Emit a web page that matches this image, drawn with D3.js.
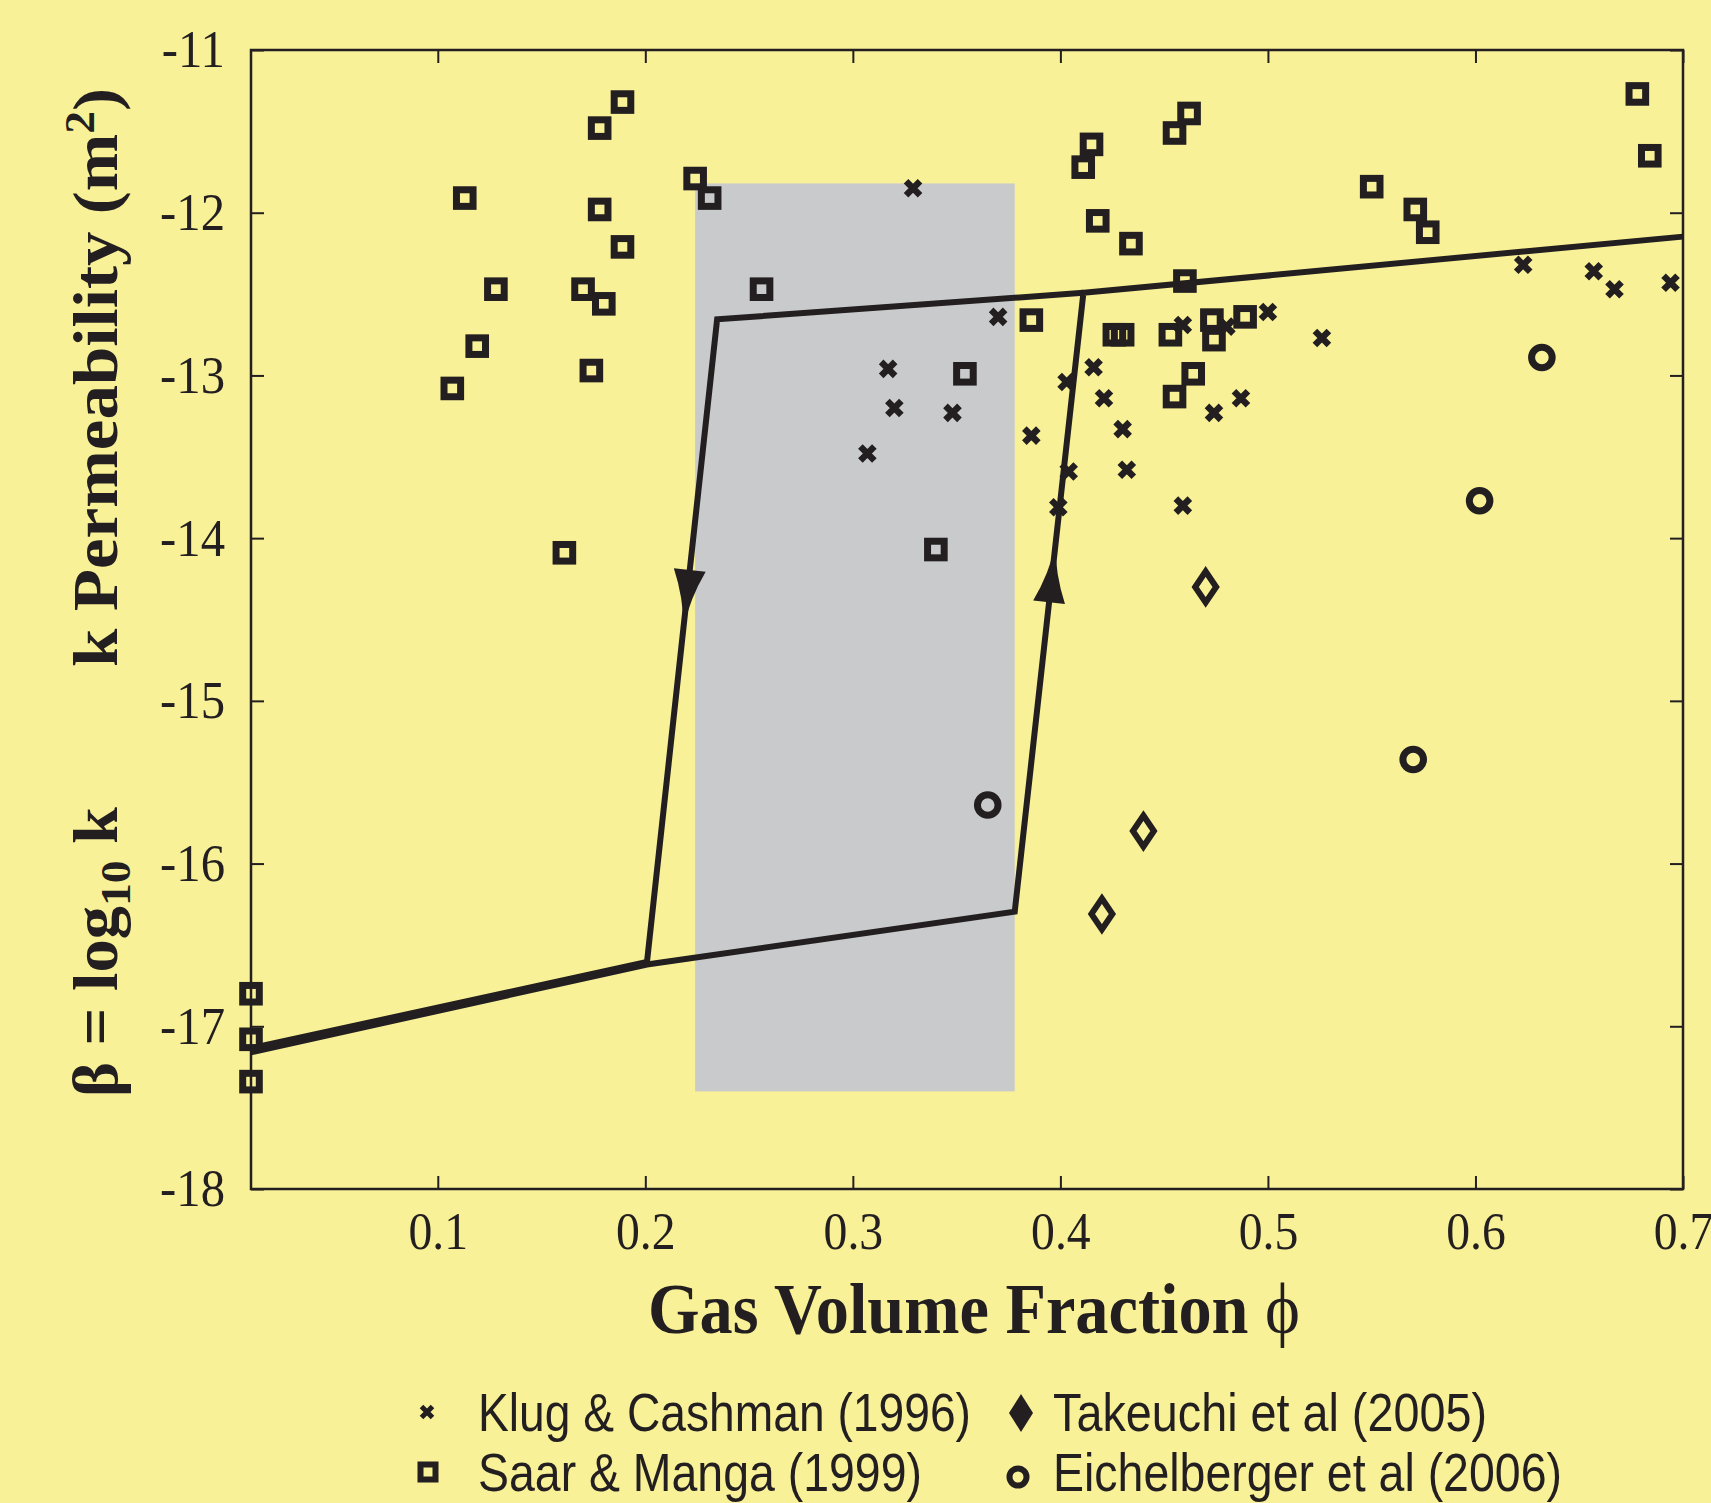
<!DOCTYPE html>
<html>
<head>
<meta charset="utf-8">
<script src="https://cdn.jsdelivr.net/npm/d3@7"></script>
<style>
  body { margin: 0; background: #f8f197; }
  svg { display: block; }
</style>
</head>
<body>
<div id="chart"></div>
<script>
// Tick values
var xTicks = [0.1, 0.2, 0.3, 0.4, 0.5, 0.6, 0.7];
var yTicks = [-11, -12, -13, -14, -15, -16, -17, -18];

// Klug & Cashman (1996) : [phi, log10 k]
var klug = [
  [0.329, -11.85], [0.317, -12.96], [0.320, -13.20], [0.348, -13.23], [0.307, -13.48],
  [0.370, -12.64], [0.386, -13.37], [0.403, -13.04], [0.404, -13.59], [0.399, -13.81],
  [0.416, -12.95], [0.421, -13.14], [0.430, -13.33], [0.432, -13.58], [0.459, -12.69],
  [0.459, -13.80], [0.474, -13.23], [0.480, -12.70], [0.487, -13.14], [0.500, -12.61],
  [0.526, -12.77], [0.623, -12.32], [0.657, -12.36], [0.667, -12.47], [0.694, -12.43]
];

// Saar & Manga (1999)
var saar = [
  [0.107, -13.08], [0.113, -11.91], [0.119, -12.82], [0.128, -12.47], [0.161, -14.09],
  [0.170, -12.47], [0.174, -12.97], [0.178, -11.48], [0.178, -11.98], [0.180, -12.56],
  [0.189, -11.32], [0.189, -12.21], [0.224, -11.79], [0.231, -11.91], [0.256, -12.47],
  [0.340, -14.07], [0.354, -12.99], [0.386, -12.66], [0.411, -11.72], [0.415, -11.58],
  [0.418, -12.05], [0.426, -12.75], [0.430, -12.75], [0.434, -12.19], [0.455, -11.51],
  [0.462, -11.39], [0.453, -12.75], [0.455, -13.13], [0.460, -12.42], [0.464, -12.99],
  [0.473, -12.66], [0.474, -12.78], [0.489, -12.64], [0.550, -11.84], [0.571, -11.98],
  [0.577, -12.12], [0.678, -11.27], [0.684, -11.65], [0.010, -16.80], [0.010, -17.08],
  [0.010, -17.34]
];

// Takeuchi et al (2005)
var takeuchi = [[0.470, -14.30], [0.440, -15.80], [0.420, -16.31]];

// Eichelberger et al (2006)
var eichelberger = [[0.365, -15.64], [0.570, -15.36], [0.602, -13.77], [0.632, -12.89]];

// Hysteresis loop branches
var loopOuter = [[0.01, -17.16], [0.2008, -16.62], [0.378, -16.296], [0.4111, -12.492], [0.7, -12.147]];
var loopInner = [[0.4111, -12.492], [0.2346, -12.655], [0.2008, -16.605], [0.01, -17.135]];

// Arrow heads: segment (from, to) and the log k of the tip
var arrows = [
  { from: [0.2346, -12.655], to: [0.2008, -16.605], tip: -14.55 },
  { from: [0.378, -16.296], to: [0.4111, -12.492], tip: -14.04 }
];

// Grey band
var bandX = [0.224, 0.378];
var bandY = [-17.40, -11.82];

var ink = "#231f20";
var W = 1711, H = 1503;

var svg = d3.select("#chart").append("svg")
    .attr("width", W)
    .attr("height", H);

svg.append("rect").attr("width", W).attr("height", H).attr("fill", "#f8f197");

var x = d3.scaleLinear().domain([0.01, 0.7]).range([251, 1683]);
var y = d3.scaleLinear().domain([-18, -11]).range([1189, 50]);

// grey band
svg.append("rect")
    .attr("x", x(bandX[0]))
    .attr("y", y(bandY[1]))
    .attr("width", x(bandX[1]) - x(bandX[0]))
    .attr("height", y(bandY[0]) - y(bandY[1]))
    .attr("fill", "#c9cacc");

// axes (ticks inward on all four sides)
var gx = svg.append("g")
    .attr("transform", "translate(0," + y(-18) + ")")
    .call(d3.axisBottom(x).tickValues(xTicks).tickSize(-13).tickSizeOuter(0)
        .tickPadding(22).tickFormat(d3.format(".1f")));
var gxt = svg.append("g")
    .attr("transform", "translate(0," + y(-11) + ")")
    .call(d3.axisTop(x).tickValues(xTicks).tickSize(-13).tickSizeOuter(0).tickFormat(""));
var gy = svg.append("g")
    .attr("transform", "translate(" + x(0.01) + ",0)")
    .call(d3.axisLeft(y).tickValues(yTicks).tickSize(-13).tickSizeOuter(0)
        .tickPadding(26).tickFormat(function (d) { return String(d); }));
var gyr = svg.append("g")
    .attr("transform", "translate(" + x(0.7) + ",0)")
    .call(d3.axisRight(y).tickValues(yTicks).tickSize(-13).tickSizeOuter(0).tickFormat(""));

[gx, gxt, gy, gyr].forEach(function (g) {
    g.select(".domain").remove();
    g.selectAll(".tick line").attr("stroke", ink).attr("stroke-width", 2);
});

gx.selectAll(".tick text")
    .attr("fill", ink)
    .style("font-family", "'Liberation Serif', 'Times New Roman', serif")
    .style("font-size", "53px")
    .attr("transform", "scale(0.9,1)");
gy.selectAll(".tick text")
    .attr("fill", ink)
    .attr("x", 0)
    .style("font-family", "'Liberation Serif', 'Times New Roman', serif")
    .style("font-size", "53px")
    .attr("transform", "translate(-26,0) scale(0.92,1)");

// box
svg.append("rect")
    .attr("x", x(0.01)).attr("y", y(-11))
    .attr("width", x(0.7) - x(0.01)).attr("height", y(-18) - y(-11))
    .attr("fill", "none").attr("stroke", ink).attr("stroke-width", 2.5);

// loop lines
var line = d3.line().x(function (d) { return x(d[0]); }).y(function (d) { return y(d[1]); });
[loopOuter, loopInner].forEach(function (p) {
    svg.append("path").datum(p)
        .attr("d", line)
        .attr("fill", "none")
        .attr("stroke", ink)
        .attr("stroke-width", 6)
        .attr("stroke-linejoin", "miter");
});

// arrow heads
var L = 58, AW = 16;
arrows.forEach(function (a) {
    var t = (a.tip - a.from[1]) / (a.to[1] - a.from[1]);
    var tx = x(a.from[0] + t * (a.to[0] - a.from[0]));
    var ty = y(a.tip);
    var ang = Math.atan2(y(a.to[1]) - y(a.from[1]), x(a.to[0]) - x(a.from[0])) * 180 / Math.PI;
    svg.append("path")
        .attr("d", "M0,0 Q" + (-L * 0.5) + ",-3 " + (-L) + "," + (-AW) +
                   " L" + (-L) + "," + AW + " Q" + (-L * 0.5) + ",3 0,0 Z")
        .attr("transform", "translate(" + tx + "," + ty + ") rotate(" + ang + ")")
        .attr("fill", ink);
});

// markers
var markers = svg.append("g");
markers.selectAll(".saar").data(saar).enter().append("rect")
    .attr("x", function (d) { return x(d[0]) - 8.3; })
    .attr("y", function (d) { return y(d[1]) - 8.3; })
    .attr("width", 16.6).attr("height", 16.6)
    .attr("fill", "none").attr("stroke", ink).attr("stroke-width", 7);

markers.selectAll(".klug").data(klug).enter().append("path")
    .attr("d", "M-7,-7L7,7M-7,7L7,-7")
    .attr("transform", function (d) { return "translate(" + x(d[0]) + "," + y(d[1]) + ")"; })
    .attr("fill", "none").attr("stroke", ink).attr("stroke-width", 6.5);

markers.selectAll(".tak").data(takeuchi).enter().append("path")
    .attr("d", "M0,-15.5L10.5,0L0,15.5L-10.5,0Z")
    .attr("transform", function (d) { return "translate(" + x(d[0]) + "," + y(d[1]) + ")"; })
    .attr("fill", "none").attr("stroke", ink).attr("stroke-width", 6);

markers.selectAll(".eich").data(eichelberger).enter().append("circle")
    .attr("cx", function (d) { return x(d[0]); })
    .attr("cy", function (d) { return y(d[1]); })
    .attr("r", 10.3)
    .attr("fill", "none").attr("stroke", ink).attr("stroke-width", 7);

// axis titles
var serif = "'Liberation Serif', 'Times New Roman', serif";
var xt = svg.append("text")
    .attr("x", 974).attr("y", 1333)
    .attr("text-anchor", "middle")
    .attr("textLength", 652).attr("lengthAdjust", "spacingAndGlyphs")
    .style("font-family", serif).style("font-size", "72px").style("font-weight", "bold")
    .attr("fill", ink);
xt.append("tspan").text("Gas Volume Fraction ");
xt.append("tspan").style("font-weight", "normal").text("\u03D5");

var yg = svg.append("g").attr("transform", "translate(117,0) scale(0.9,1) rotate(-90)");
var yt1 = yg.append("text")
    .attr("x", -1097).attr("y", 0)
    .attr("textLength", 290).attr("lengthAdjust", "spacingAndGlyphs")
    .style("font-family", serif).style("font-size", "70px").style("font-weight", "bold")
    .attr("fill", ink);
yt1.append("tspan").text("\u03B2 = log");
yt1.append("tspan").attr("dy", 14).style("font-size", "48px").text("10");
yt1.append("tspan").attr("dy", -14).text(" k");

var yt2 = yg.append("text")
    .attr("x", -667).attr("y", 0)
    .attr("textLength", 579).attr("lengthAdjust", "spacingAndGlyphs")
    .style("font-family", serif).style("font-size", "70px").style("font-weight", "bold")
    .attr("fill", ink);
yt2.append("tspan").text("k Permeability (m");
yt2.append("tspan").attr("dy", -26).style("font-size", "46px").text("2");
yt2.append("tspan").attr("dy", 26).text(")");

// legend
var sans = "'Liberation Sans', Arial, sans-serif";
var leg = svg.append("g");
function legText(tx, ty, len, s) {
    leg.append("text")
        .attr("x", tx).attr("y", ty)
        .attr("textLength", len).attr("lengthAdjust", "spacingAndGlyphs")
        .style("font-family", sans).style("font-size", "53px")
        .attr("fill", ink).text(s);
}
leg.append("path").attr("d", "M-5.5,-5.5L5.5,5.5M-5.5,5.5L5.5,-5.5")
    .attr("transform", "translate(427,1412)")
    .attr("stroke", ink).attr("stroke-width", 5);
legText(478, 1431, 493, "Klug & Cashman (1996)");
leg.append("path").attr("d", "M0,-19L12,0L0,19L-12,0Z")
    .attr("transform", "translate(1021,1413)")
    .attr("fill", ink);
legText(1053, 1431, 434, "Takeuchi et al (2005)");
leg.append("rect").attr("x", 428 - 7.5).attr("y", 1472 - 7.5).attr("width", 15).attr("height", 15)
    .attr("fill", "none").attr("stroke", ink).attr("stroke-width", 6);
legText(478, 1491, 444, "Saar & Manga (1999)");
leg.append("circle").attr("cx", 1018).attr("cy", 1477).attr("r", 8.5)
    .attr("fill", "none").attr("stroke", ink).attr("stroke-width", 6);
legText(1053, 1491, 509, "Eichelberger et al (2006)");
</script>
</body>
</html>
